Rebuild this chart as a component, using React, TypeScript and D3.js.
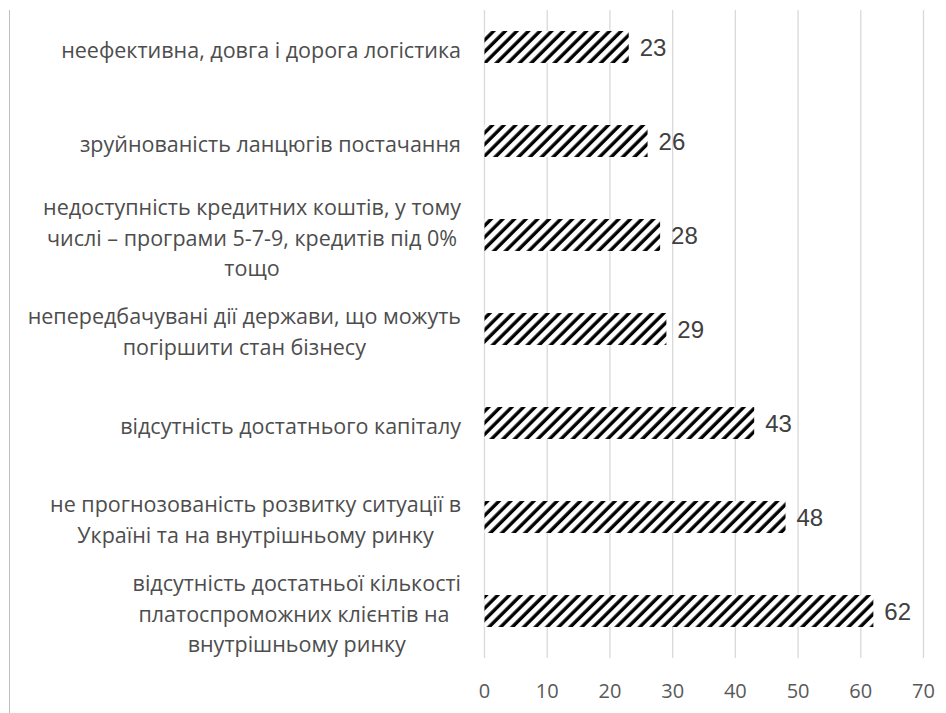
import React, { useEffect, useRef } from "react"
import * as d3 from "d3"

const categories = [
  ["неефективна, довга і дорога логістика"],
  ["зруйнованість ланцюгів постачання"],
  ["недоступність кредитних коштів, у тому", "числі – програми 5-7-9, кредитів під 0%", "тощо"],
  ["непередбачувані дії держави, що можуть", "погіршити стан бізнесу"],
  ["відсутність достатнього капіталу"],
  ["не прогнозованість розвитку ситуації в", "Україні та на внутрішньому ринку"],
  ["відсутність достатньої кількості", "платоспроможних клієнтів на ", "внутрішньому ринку"],
]
const values = [23, 26, 28, 29, 43, 48, 62]
const ticks = [0, 10, 20, 30, 40, 50, 60, 70]

const width = 946
const height = 713

export default function App() {
  const ref = useRef<SVGSVGElement>(null)

  useEffect(() => {
    const svg = d3.select(ref.current)
    svg.selectAll("*").remove()

    const x = d3.scaleLinear().domain([0, 70]).range([484.5, 923.5])
    const y = d3.scaleBand<number>()
      .domain(d3.range(values.length))
      .range([0, 658])
      .paddingInner(0.66)
      .paddingOuter(0.33)

    const defs = svg.append("defs")
    const pat = defs.append("pattern")
      .attr("id", "hatch")
      .attr("patternUnits", "userSpaceOnUse")
      .attr("width", 8.2)
      .attr("height", 8.2)
      .attr("patternTransform", "rotate(45)")
    pat.append("rect").attr("width", 8.2).attr("height", 8.2).attr("fill", "white")
    pat.append("line")
      .attr("x1", 2).attr("x2", 2).attr("y1", 0).attr("y2", 8.2)
      .attr("stroke", "black").attr("stroke-width", 3.4)

    // frame line on the left
    svg.append("line")
      .attr("x1", 9.5).attr("x2", 9.5).attr("y1", 10).attr("y2", height)
      .attr("stroke", "#bfbfbf").attr("stroke-width", 1)

    // gridlines
    svg.append("g")
      .selectAll("line")
      .data(ticks)
      .enter()
      .append("line")
      .attr("x1", d => x(d)).attr("x2", d => x(d))
      .attr("y1", 10).attr("y2", 658)
      .attr("stroke", "#d9d9d9").attr("stroke-width", 1.3)

    // tick labels
    svg.append("g")
      .selectAll("text")
      .data(ticks)
      .enter()
      .append("text")
      .attr("x", d => x(d))
      .attr("y", 691)
      .attr("dy", "0.35em")
      .attr("text-anchor", "middle")
      .attr("font-family", "Open Sans")
      .attr("font-size", 20)
      .attr("fill", "#595959")
      .text(d => d)

    // bars
    svg.append("g")
      .selectAll("rect")
      .data(values)
      .enter()
      .append("rect")
      .attr("x", x(0))
      .attr("y", (d, i) => y(i)!)
      .attr("width", d => x(d) - x(0))
      .attr("height", y.bandwidth())
      .attr("fill", "url(#hatch)")

    // value labels
    svg.append("g")
      .selectAll("text")
      .data(values)
      .enter()
      .append("text")
      .attr("x", d => x(d) + 11)
      .attr("y", (d, i) => y(i)! + y.bandwidth() / 2)
      .attr("dy", "0.36em")
      .attr("font-family", "Liberation Sans")
      .attr("font-size", 24)
      .attr("fill", "#404040")
      .text(d => d)

    // category labels, each block centred, right edge at 461
    const lineH = 30.5
    categories.forEach((lines, i) => {
      const cy = y(i)! + y.bandwidth() / 2 + 3
      const g = svg.append("g")
      const texts = g.selectAll("text")
        .data(lines)
        .enter()
        .append("text")
        .attr("y", (d, j) => cy + (j - (lines.length - 1) / 2) * lineH)
        .attr("dy", "0.35em")
        .attr("text-anchor", "middle")
        .attr("font-family", "Open Sans")
        .attr("font-size", 21.5)
        .attr("fill", "#4d4d4d")
        .style("white-space", "pre")
        .text(d => d)
      let maxW = 0
      texts.each(function () {
        maxW = Math.max(maxW, (this as SVGTextElement).getComputedTextLength())
      })
      texts.attr("x", 461 - maxW / 2)
    })
  }, [])

  return (
    <svg
      ref={ref}
      width={width}
      height={height}
      style={{ position: "absolute", left: 0, top: 0, background: "white" }}
    />
  )
}
